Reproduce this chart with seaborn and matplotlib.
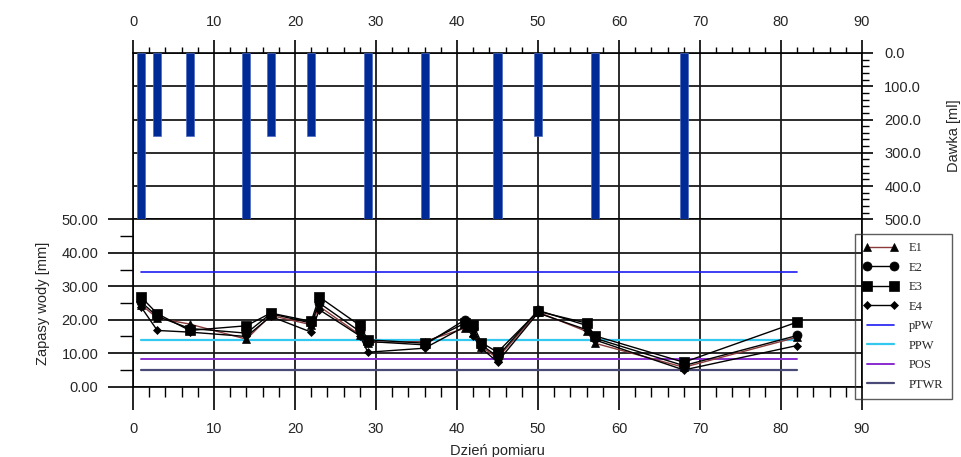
import numpy as np
import pandas as pd
import matplotlib
matplotlib.use("Agg")
import matplotlib.pyplot as plt
import seaborn as sns
from matplotlib.ticker import MultipleLocator, FormatStrFormatter

# ---------------- data ----------------
days = [1, 3, 7, 14, 17, 22, 23, 28, 29, 36, 41, 42, 43, 45, 50, 56, 57, 68, 82]
e1 = [24.5, 20.5, 18.7, 14.2, 21.3, 18.5, 24.0, 15.5, 13.2, 13.5, 17.5, 16.0, 12.0, 8.5, 22.3, 16.5, 13.0, 5.8, 14.8]
e2 = [25.3, 21.0, 17.4, 16.0, 21.8, 19.0, 25.0, 16.5, 13.5, 12.5, 20.0, 17.5, 12.5, 9.0, 22.8, 18.3, 14.5, 6.3, 15.3]
e3 = [26.8, 21.8, 16.8, 18.2, 22.0, 19.5, 26.8, 18.3, 14.0, 13.0, 19.0, 18.5, 13.2, 10.3, 22.5, 19.0, 15.2, 7.3, 19.3]
e4 = [23.8, 16.8, 16.3, 15.0, 21.0, 16.3, 23.0, 15.2, 10.3, 11.5, 18.0, 15.0, 11.5, 7.4, 22.0, 17.0, 14.0, 5.0, 12.3]
series_names = ["E1", "E2", "E3", "E4"]

dose_days = [1, 3, 7, 14, 17, 22, 29, 36, 45, 50, 57, 68]
doses = [500, 250, 250, 500, 250, 250, 500, 500, 500, 250, 500, 500]

ref_names = ["pPW", "PPW", "POS", "PTWR"]
ref_values = [34.2, 13.9, 8.2, 4.9]
ref_span = [1, 82]

# ---------------- style ----------------
sns.set_theme(style="white")
plt.rcParams["font.family"] = ["Liberation Sans", "DejaVu Sans"]
plt.rcParams["axes.edgecolor"] = "black"

fig = plt.figure(figsize=(9.61, 4.57), dpi=100)
L, W = 133 / 961, 729 / 961
ax_top = fig.add_axes([L, 1 - 219.3 / 457, W, (219.3 - 53) / 457])
ax_bot = fig.add_axes([L, 1 - 386.7 / 457, W, (386.7 - 219.3) / 457])

grid_kw = dict(color="#1a1a1a", linewidth=1.3)
tick_fs = 10.5

# ---------------- top panel: doses ----------------
sns.barplot(x=dose_days, y=doses, native_scale=True, width=0.5,
            color="#002a96", saturation=1, errorbar=None,
            edgecolor="#4a68c0", linewidth=0.5, ax=ax_top, zorder=3)
ax_top.set_xlim(0, 90)
ax_top.set_ylim(500, 0)
ax_top.xaxis.tick_top()
ax_top.yaxis.tick_right()
ax_top.xaxis.set_major_locator(MultipleLocator(10))
ax_top.xaxis.set_minor_locator(MultipleLocator(2))
ax_top.yaxis.set_major_locator(MultipleLocator(100))
ax_top.yaxis.set_minor_locator(MultipleLocator(20))
ax_top.yaxis.set_major_formatter(FormatStrFormatter("%.1f"))
ax_top.xaxis.set_major_formatter(FormatStrFormatter("%d"))
ax_top.tick_params(axis="x", which="major", direction="out", length=9.5, width=1.2,
                   color="black", labelsize=tick_fs, pad=8, top=True, bottom=False)
ax_top.tick_params(axis="x", which="minor", direction="out", length=4.5, width=1.0,
                   color="black", top=True, bottom=False)
ax_top.tick_params(axis="y", which="major", direction="out", length=8, width=1.2,
                   color="black", labelsize=tick_fs, pad=8, right=True, left=False)
ax_top.tick_params(axis="y", which="minor", direction="out", length=5, width=1.0,
                   color="black", right=True, left=False)
ax_top.grid(True, which="major", **grid_kw)
ax_top.set_axisbelow(True)
ax_top.set_xlabel("")
ax_top.set_ylabel("Dawka [ml]", fontsize=tick_fs, labelpad=19)
ax_top.yaxis.set_label_position("right")
for sp in ax_top.spines.values():
    sp.set_color("black")
    sp.set_linewidth(1.2)

# ---------------- bottom panel: water storage ----------------
styles = {
    "E1": dict(color="#8b3a3a", marker="^", markersize=6),
    "E2": dict(color="black", marker="o", markersize=6.5),
    "E3": dict(color="black", marker="s", markersize=7),
    "E4": dict(color="black", marker="D", markersize=4.5),
}
for name, vals in zip(series_names, [e1, e2, e3, e4]):
    st = styles[name]
    sns.lineplot(x=days, y=vals, ax=ax_bot, color=st["color"], marker=st["marker"],
                 markersize=st["markersize"], markerfacecolor="black",
                 markeredgecolor="black", markeredgewidth=0.5, linewidth=1.0,
                 sort=False, legend=False, label=name, zorder=4)

ref_colors = ["#1c1cf0", "#33c8f0", "#8a2bd0", "#4a4a78"]
ref_lw = [1.2, 1.6, 1.4, 1.6]
for name, val, col, lw in zip(ref_names, ref_values, ref_colors, ref_lw):
    sns.lineplot(x=ref_span, y=[val, val], ax=ax_bot, color=col, linewidth=lw,
                 legend=False, label=name, zorder=3)

ax_bot.set_xlim(0, 90)
ax_bot.set_ylim(0, 50)
ax_bot.xaxis.set_major_locator(MultipleLocator(10))
ax_bot.xaxis.set_minor_locator(MultipleLocator(2))
ax_bot.yaxis.set_major_locator(MultipleLocator(10))
ax_bot.yaxis.set_minor_locator(MultipleLocator(5))
ax_bot.yaxis.set_major_formatter(FormatStrFormatter("%.2f"))
ax_bot.xaxis.set_major_formatter(FormatStrFormatter("%d"))
ax_bot.tick_params(axis="x", which="major", direction="out", length=16.5, width=1.2,
                   color="black", labelsize=tick_fs, pad=9, bottom=True)
ax_bot.tick_params(axis="x", which="minor", direction="out", length=7.5, width=1.0,
                   color="black", bottom=True)
ax_bot.tick_params(axis="y", which="major", direction="out", length=18, width=1.2,
                   color="black", labelsize=tick_fs, pad=7, left=True)
ax_bot.tick_params(axis="y", which="minor", direction="out", length=9.5, width=1.0,
                   color="black", left=True)
ax_bot.grid(True, which="major", **grid_kw)
ax_bot.set_axisbelow(True)
ax_bot.set_xlabel("Dzień pomiaru", fontsize=tick_fs, labelpad=6)
ax_bot.set_ylabel("Zapasy wody [mm]", fontsize=tick_fs, labelpad=8)
for sp in ax_bot.spines.values():
    sp.set_color("black")
    sp.set_linewidth(1.2)
ax_bot.spines["top"].set_visible(False)

handles, labels = ax_bot.get_legend_handles_labels()
leg = fig.legend(handles, labels, loc="upper left",
                 bbox_to_anchor=(855 / 961, 1 - 234 / 457),
                 prop={"family": "Liberation Serif", "size": 9},
                 numpoints=2, handlelength=2.8, handletextpad=0.85,
                 labelspacing=0.6, borderpad=0.65, borderaxespad=0,
                 frameon=True, fancybox=False, facecolor="none",
                 edgecolor="#333333", framealpha=None)
leg.get_frame().set_linewidth(1.0)

fig.savefig("out.png", dpi=100)
